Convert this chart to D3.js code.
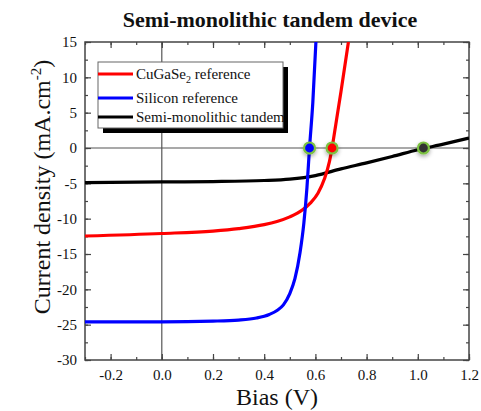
<!DOCTYPE html>
<html><head><meta charset="utf-8">
<script src="https://cdn.jsdelivr.net/npm/d3@7"></script>
<style>body{margin:0;background:#fff}svg{display:block}text{font-family:"Liberation Serif","Times New Roman",serif}</style>
</head><body><svg id="c" width="481" height="411"></svg>
<script>
const xTicks = [-0.2, 0.0, 0.2, 0.4, 0.6, 0.8, 1.0, 1.2];
const yTicks = [15, 10, 5, 0, -5, -10, -15, -20, -25, -30];
const seriesNames = ["CuGaSe2 reference", "Silicon reference", "Semi-monolithic tandem"];
const seriesColors = ["#ff0000", "#0000ff", "#000000"];
const cigsV = [-0.3, 0, 0.2, 0.3, 0.4, 0.45, 0.5, 0.55, 0.58, 0.61, 0.635, 0.655, 0.665, 0.68, 0.7, 0.729];
const cigsJ = [-12.45, -12.1, -11.75, -11.4, -10.85, -10.4, -9.75, -8.75, -7.8, -6.4, -4.4, -1.9, 0, 3.4, 8.0, 15];
const siV = [-0.3, 0, 0.2, 0.3, 0.37, 0.42, 0.45, 0.475, 0.5, 0.52, 0.54, 0.555, 0.567, 0.577, 0.59, 0.602];
const siJ = [-24.6, -24.6, -24.5, -24.35, -24.05, -23.55, -23.0, -22.2, -20.6, -18.5, -14.8, -10.6, -5.6, 0, 6.5, 15];
const tanV = [-0.3, 0, 0.2, 0.4, 0.5, 0.6, 0.7, 0.8, 0.9, 1.0, 1.1, 1.2];
const tanJ = [-4.9, -4.8, -4.75, -4.6, -4.4, -3.9, -2.95, -2.1, -1.2, -0.25, 0.55, 1.4];
const vocV = [0.577, 0.665, 1.022];
const vocFill = ["#0000ff", "#ff0000", "#333333"];

const svg = d3.select("#c");
const L = 85, R = 469, T = 42, B = 360;
const x = d3.scaleLinear().domain([-0.3, 1.2]).range([L, R]);
const y = d3.scaleLinear().domain([-30, 15]).range([B, T]);

const defs = svg.append("defs");
defs.append("clipPath").attr("id", "clip").append("rect").attr("x", L).attr("y", T).attr("width", R - L).attr("height", B - T);
const f = defs.append("filter").attr("id", "glow").attr("x", "-60%").attr("y", "-60%").attr("width", "220%").attr("height", "220%");
f.append("feDropShadow").attr("dx", 0).attr("dy", 2).attr("stdDeviation", 2).attr("flood-color", "#000").attr("flood-opacity", 0.35);

// title
svg.append("text").attr("x", 270).attr("y", 27).attr("text-anchor", "middle")
  .attr("font-size", 22).attr("font-weight", "bold").attr("fill", "#111").text("Semi-monolithic tandem device");

// zero lines
svg.append("line").attr("x1", x(0)).attr("x2", x(0)).attr("y1", T).attr("y2", B).attr("stroke", "#555").attr("stroke-width", 1.2);
svg.append("line").attr("x1", L).attr("x2", R).attr("y1", y(0)).attr("y2", y(0)).attr("stroke", "#555").attr("stroke-width", 1.2);

// axes
const frameCol = "#444";
const minorX = d3.range(-0.3, 1.2001, 0.1).map(v => +v.toFixed(2));
const minorY = d3.range(-30, 15.001, 2.5);
const ax = (g, axis) => { g.call(axis); g.select(".domain").remove(); g.attr("font-family", null); g.selectAll("line").attr("stroke", frameCol).attr("stroke-width", 1.2); };
svg.append("g").attr("transform", `translate(0,${B})`).call(g => ax(g, d3.axisBottom(x).tickValues(minorX).tickSize(-3).tickFormat("")));
svg.append("g").attr("transform", `translate(0,${B})`).call(g => ax(g, d3.axisBottom(x).tickValues(xTicks).tickSize(-6).tickPadding(9).tickFormat(d => d.toFixed(1))));
svg.append("g").attr("transform", `translate(0,${T})`).call(g => ax(g, d3.axisTop(x).tickValues(minorX).tickSize(-3).tickFormat("")));
svg.append("g").attr("transform", `translate(0,${T})`).call(g => ax(g, d3.axisTop(x).tickValues(xTicks).tickSize(-6).tickFormat("")));
svg.append("g").attr("transform", `translate(${L},0)`).call(g => ax(g, d3.axisLeft(y).tickValues(minorY).tickSize(-3).tickFormat("")));
svg.append("g").attr("transform", `translate(${L},0)`).call(g => ax(g, d3.axisLeft(y).tickValues(yTicks).tickSize(-6).tickPadding(8).tickFormat(d => String(d))));
svg.append("g").attr("transform", `translate(${R},0)`).call(g => ax(g, d3.axisRight(y).tickValues(minorY).tickSize(-3).tickFormat("")));
svg.append("g").attr("transform", `translate(${R},0)`).call(g => ax(g, d3.axisRight(y).tickValues(yTicks).tickSize(-6).tickFormat("")));
svg.selectAll(".tick text").attr("font-family", "Liberation Serif").attr("font-size", 15).attr("fill", "#111");
svg.append("rect").attr("x", L).attr("y", T).attr("width", R - L).attr("height", B - T).attr("fill", "none").attr("stroke", frameCol).attr("stroke-width", 1.5);

// curves
const line = d3.line().x(d => x(d[0])).y(d => y(d[1])).curve(d3.curveMonotoneX);
const data = [d3.zip(cigsV, cigsJ), d3.zip(siV, siJ), d3.zip(tanV, tanJ)];
const cg = svg.append("g").attr("clip-path", "url(#clip)");
[2, 0, 1].forEach(i => cg.append("path").attr("d", line(data[i])).attr("fill", "none").attr("stroke", seriesColors[i]).attr("stroke-width", 3.2));

// Voc markers
svg.append("g").selectAll("circle").data(vocV).join("circle")
  .attr("cx", d => x(d)).attr("cy", y(0)).attr("r", 5.5)
  .attr("fill", (d, i) => vocFill[i]).attr("stroke", "#7cc242").attr("stroke-width", 2.2).attr("filter", "url(#glow)");

// legend
const lg = svg.append("g");
lg.append("rect").attr("x", 103).attr("y", 67).attr("width", 185).attr("height", 66).attr("fill", "#000");
lg.append("rect").attr("x", 98).attr("y", 62).attr("width", 185).attr("height", 66).attr("fill", "#fff").attr("stroke", "#666").attr("stroke-width", 1);
const rowsY = [74, 98, 117];
rowsY.forEach((ry, i) => {
  lg.append("line").attr("x1", 98).attr("x2", 133).attr("y1", ry).attr("y2", ry).attr("stroke", seriesColors[i]).attr("stroke-width", 3);
  const t = lg.append("text").attr("x", 136).attr("y", ry + 5).attr("font-size", 15).attr("fill", "#111");
  if (i === 0) {
    t.append("tspan").text("CuGaSe");
    t.append("tspan").attr("font-size", 10).attr("dy", 4).text("2");
    t.append("tspan").attr("dy", -4).text(" reference");
  } else t.text(seriesNames[i]);
});

// axis labels
svg.append("text").attr("x", 277).attr("y", 405).attr("text-anchor", "middle").attr("font-size", 24).attr("fill", "#111").text("Bias (V)");
const yl = svg.append("text").attr("transform", `translate(50,187) rotate(-90)`).attr("text-anchor", "middle").attr("font-size", 24).attr("fill", "#111");
yl.append("tspan").text("Current density (mA.cm");
yl.append("tspan").attr("font-size", 15).attr("dy", -9).text("-2");
yl.append("tspan").attr("dy", 9).text(")");
</script></body></html>
